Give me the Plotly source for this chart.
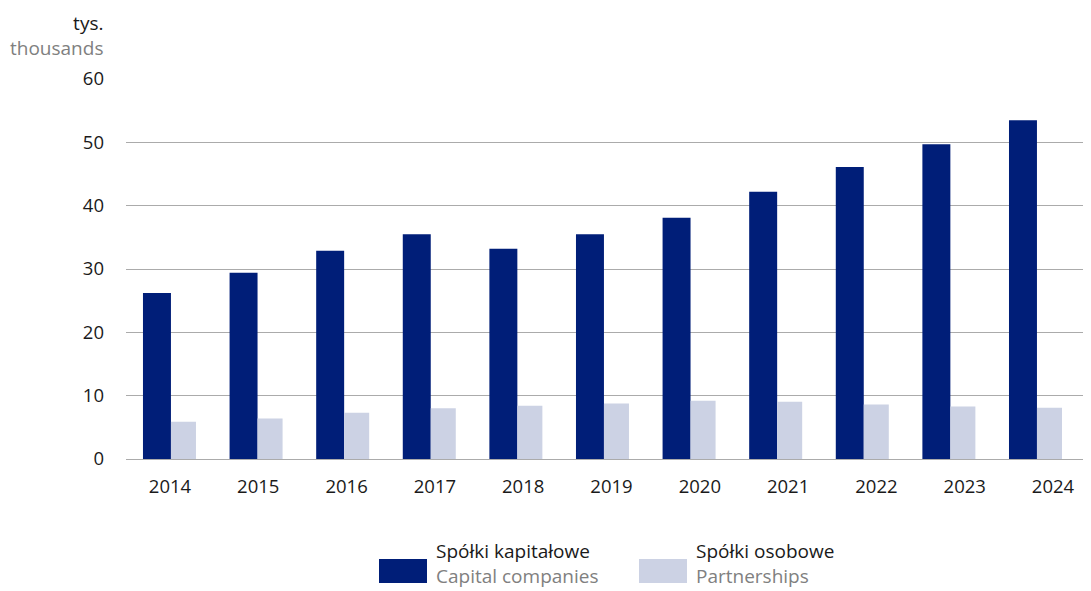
import plotly.graph_objects as go

years = ["2014", "2015", "2016", "2017", "2018", "2019", "2020", "2021", "2022", "2023", "2024"]
capital = [26.2, 29.4, 32.9, 35.5, 33.2, 35.5, 38.1, 42.2, 46.1, 49.7, 53.5]
partnerships = [5.9, 6.4, 7.3, 8.0, 8.4, 8.75, 9.2, 9.05, 8.6, 8.3, 8.1]
y_ticks = [0, 10, 20, 30, 40, 50, 60]

DARK = "#001E78"
LIGHT = "#CCD2E4"
FONT = "Open Sans"
TXT = "#1a1a1a"
GREY = "#808080"

# page offset (body margin) compensation
OFF = 8
W, H = 1091 - OFF, 591 - OFF
L, T, B = 126 - OFF, 79 - OFF, 132
plot_w = W - L
plot_h = H - T - B
bottom_page = H - B + OFF


def px_x(px):
    return (px - OFF - L) / plot_w


def px_y(py):
    return (bottom_page - py) / plot_h


fig = go.Figure()
fig.add_trace(go.Bar(x=years, y=capital, name="Spółki kapitałowe", marker_color=DARK,
                     marker_line_width=0, offset=-0.306, width=0.323, showlegend=False))
fig.add_trace(go.Bar(x=years, y=partnerships, name="Spółki osobowe", marker_color=LIGHT,
                     marker_line_width=0, offset=0.017, width=0.289, showlegend=False))
# invisible carrier for the tick-label axis
fig.add_trace(go.Scatter(x=years, y=capital, xaxis="x2", mode="markers",
                         marker=dict(opacity=0), hoverinfo="skip", showlegend=False))

fig.update_layout(
    width=W, height=H,
    margin=dict(l=L, r=0, t=T, b=B),
    paper_bgcolor="white", plot_bgcolor="white",
    barmode="overlay",
    font=dict(family=FONT, size=18, color=TXT),
    xaxis=dict(type="category", range=[-0.502, 10.641], showgrid=False, showline=False,
               zeroline=False, ticks="", showticklabels=False),
    xaxis2=dict(type="category", range=[-0.498, 10.43], overlaying="x", anchor="y",
                side="bottom", showgrid=False, showline=False, zeroline=False, ticks="",
                ticklabelstandoff=14, tickfont=dict(size=18.5, color=TXT)),
    yaxis=dict(range=[0, 60], tickvals=y_ticks, showgrid=True, gridcolor="#ababab",
               gridwidth=1, zeroline=True, zerolinecolor="#ababab", zerolinewidth=1,
               showline=False, ticks="", ticklabelstandoff=21,
               tickfont=dict(size=18.5, color=TXT)),
    showlegend=False,
)

# axis unit title
fig.add_annotation(x=px_x(105), y=px_y(35), xref="paper", yref="paper",
                   text=f"tys.<br><span style='color:{GREY}'>thousands</span>",
                   showarrow=False, xanchor="right", yanchor="middle", align="right",
                   font=dict(size=19, color=TXT))

# manual legend
legend_items = [("Spółki kapitałowe", "Capital companies", DARK, 379),
                ("Spółki osobowe", "Partnerships", LIGHT, 639)]
for pl, en, col, x0 in legend_items:
    fig.add_shape(type="rect", xref="paper", yref="paper",
                  x0=px_x(x0), x1=px_x(x0 + 48), y0=px_y(583), y1=px_y(559),
                  fillcolor=col, line_width=0)
    fig.add_annotation(x=px_x(x0 + 55), y=px_y(563), xref="paper", yref="paper",
                       text=f"{pl}<br><span style='color:{GREY}'>{en}</span>",
                       showarrow=False, xanchor="left", yanchor="middle", align="left",
                       font=dict(size=19, color=TXT))

fig.write_html("out.html")
